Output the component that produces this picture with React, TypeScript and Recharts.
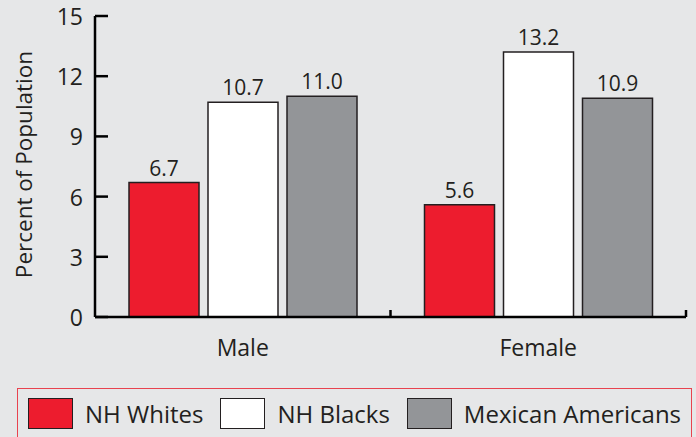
import { BarChart, Bar, XAxis, YAxis, LabelList } from 'recharts'

const categories = ['Male', 'Female']
const nhWhites = [6.7, 5.6]
const nhBlacks = [10.7, 13.2]
const mexicanAmericans = [11.0, 10.9]
const yTicks = [0, 3, 6, 9, 12, 15]

const series = [
  { key: 'whites', name: 'NH Whites', color: '#ed1c2e' },
  { key: 'blacks', name: 'NH Blacks', color: '#ffffff' },
  { key: 'mexican', name: 'Mexican Americans', color: '#939598' },
]

const chartData = categories.map((c, i) => ({
  group: c,
  whites: nhWhites[i],
  blacks: nhBlacks[i],
  mexican: mexicanAmericans[i],
}))

const INK = '#231f20'
const FONT = '"Open Sans", sans-serif'

// y ticks point inward, toward the bars
function YTick({ x, y, payload }: any) {
  return (
    <g>
      <line x1={x + 12} x2={x + 25} y1={y} y2={y} stroke="#000" strokeWidth={2.5} />
      <text x={x} y={y} textAnchor="end" dominantBaseline="central" fill={INK} fontSize={23} fontFamily={FONT}>
        {payload.value}
      </text>
    </g>
  )
}

// category label plus a short upward tick at the right edge of each band
function XTick({ x, y, payload }: any) {
  const half = payload.offset || 148
  return (
    <g>
      <line x1={x + half} x2={x + half} y1={y} y2={y - 7} stroke="#000" strokeWidth={2.5} />
      <text x={x} y={y + 39} textAnchor="middle" fill={INK} fontSize={23} fontFamily={FONT}>
        {payload.value}
      </text>
    </g>
  )
}

export default function App() {
  return (
    <div style={{ position: 'absolute', left: 0, top: 0, width: 696, height: 437, background: '#e6e7e8', overflow: 'hidden', fontFamily: FONT }}>
      <BarChart
        width={696}
        height={380}
        data={chartData}
        margin={{ top: 16, right: 10, left: 0, bottom: 0 }}
        barSize={70}
        barGap={9}
      >
        <XAxis
          dataKey="group"
          height={63}
          tickLine={false}
          tickSize={0}
          tickMargin={0}
          axisLine={{ stroke: '#000', strokeWidth: 2.5 }}
          tick={<XTick />}
          interval={0}
        />
        <YAxis
          width={95}
          domain={[0, 15]}
          ticks={yTicks}
          tickLine={false}
          tickSize={0}
          tickMargin={12}
          axisLine={{ stroke: '#000', strokeWidth: 2.5 }}
          tick={<YTick />}
          label={{
            value: 'Percent of Population',
            angle: -90,
            position: 'insideLeft',
            dx: 19,
            dy: -2,
            style: { fill: INK, fontSize: 22.5, fontFamily: FONT, textAnchor: 'middle' },
          }}
        />
        {series.map(s => (
          <Bar key={s.key} dataKey={s.key} fill={s.color} stroke={INK} strokeWidth={1.5} isAnimationActive={false}>
            <LabelList
              dataKey={s.key}
              position="top"
              offset={7}
              formatter={(v: any) => Number(v).toFixed(1)}
              style={{ fill: INK, fontSize: 21, fontFamily: FONT }}
            />
          </Bar>
        ))}
      </BarChart>
      <div
        style={{
          position: 'absolute', left: 17, top: 388, width: 675, height: 60,
          border: '1.5px solid #e8434f', boxSizing: 'border-box',
          display: 'flex', alignItems: 'flex-start', paddingLeft: 10, paddingTop: 9,
        }}
      >
        {series.map(s => (
          <div key={s.key} style={{ display: 'flex', alignItems: 'center', marginRight: 17, flexShrink: 0 }}>
            <div style={{ width: 45, height: 31, background: s.color, border: `1.5px solid ${INK}`, boxSizing: 'border-box', marginRight: 12, flexShrink: 0 }} />
            <span style={{ fontSize: 24, color: INK, lineHeight: '31px', whiteSpace: 'nowrap' }}>{s.name}</span>
          </div>
        ))}
      </div>
    </div>
  )
}
